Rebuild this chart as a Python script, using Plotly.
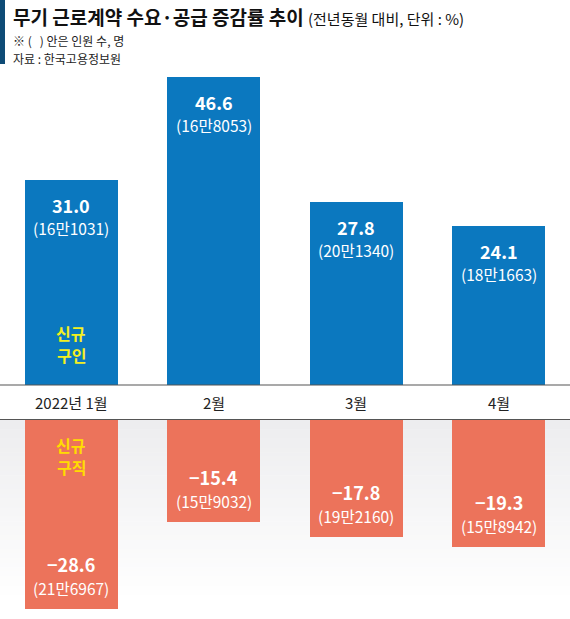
import plotly.graph_objects as go

# ---- data ----
months = ["2022년 1월", "2월", "3월", "4월"]
demand_rate = [31.0, 46.6, 27.8, 24.1]          # 신규 구인 증감률 (%)
demand_count = ["16만1031", "16만8053", "20만1340", "18만1663"]
supply_rate = [-28.6, -15.4, -17.8, -19.3]      # 신규 구직 증감률 (%)
supply_count = ["21만6967", "15만9032", "19만2160", "15만8942"]

title_main = "무기 근로계약 수요·공급 증감률 추이"
title_unit = "(전년동월 대비, 단위 : %)"
note_text = "※ (   ) 안은 인원 수, 명"
source_text = "자료 : 한국고용정보원"
demand_name = ["신규", "구인"]
supply_name = ["신규", "구직"]

# ---- style ----
W, H = 570, 619
BLUE = "#0b78bf"
ORANGE = "#ec735b"
KR = "Noto Sans CJK KR"
PX_PER_UNIT = 6.6

def py(p):  # pixel from top -> paper y
    return 1 - p / H

top_base, top_top = 385, 60
bot_base, bot_bottom = 420, 619

fig = go.Figure()
fig.add_trace(go.Bar(x=months, y=demand_rate, width=0.655, marker=dict(color=BLUE, line_width=0),
                     xaxis="x", yaxis="y", hoverinfo="skip", showlegend=False))
fig.add_trace(go.Bar(x=months, y=supply_rate, width=0.655, marker=dict(color=ORANGE, line_width=0),
                     xaxis="x2", yaxis="y2", hoverinfo="skip", showlegend=False))

ann = []
# value labels
for m, v, c in zip(months, demand_rate, demand_count):
    ann.append(dict(x=m, y=v, xref="x", yref="y", text=f"<b>{v:.1f}</b>", showarrow=False,
                    yshift=-25, font=dict(family=KR, size=18, color="white")))
    ann.append(dict(x=m, y=v, xref="x", yref="y", text=f"({c})", showarrow=False,
                    yshift=-48, font=dict(family=KR, size=15.5, color="white")))
for m, v, c in zip(months, supply_rate, supply_count):
    ann.append(dict(x=m, y=v, xref="x2", yref="y2", text=f"<b>−{abs(v):.1f}</b>", showarrow=False,
                    yshift=45, font=dict(family=KR, size=18, color="white")))
    ann.append(dict(x=m, y=v, xref="x2", yref="y2", text=f"({c})", showarrow=False,
                    yshift=21, font=dict(family=KR, size=15.5, color="white")))

# series name labels inside first bars
for w, dy in zip(demand_name, (52, 30)):
    ann.append(dict(x=months[0], y=0, xref="x", yref="y", text=f"<b>{w}</b>", showarrow=False,
                    yshift=dy, font=dict(family=KR, size=16, color="#f3ef1f")))
for w, dy in zip(supply_name, (-25, -47)):
    ann.append(dict(x=months[0], y=0, xref="x2", yref="y2", text=f"<b>{w}</b>", showarrow=False,
                    yshift=dy, font=dict(family=KR, size=16, color="#ffdc00")))

# category labels in the band
for m in months:
    ann.append(dict(x=m, y=py(402), xref="x", yref="paper", text=m, showarrow=False,
                    font=dict(family=KR, size=15, color="#222")))

# title block
ann.append(dict(x=12 / W, y=py(17), xref="paper", yref="paper", xanchor="left", yanchor="middle",
                text=f"<b>{title_main}</b> <span style='font-size:15px;font-weight:normal'>{title_unit}</span>",
                showarrow=False, borderpad=0, font=dict(family=KR, size=19, color="#111")))
ann.append(dict(x=12 / W, y=py(40), xref="paper", yref="paper", xanchor="left", yanchor="middle",
                text=note_text, showarrow=False, borderpad=0, font=dict(family=KR, size=12, color="#222")))
ann.append(dict(x=12 / W, y=py(58), xref="paper", yref="paper", xanchor="left", yanchor="middle",
                text=source_text, showarrow=False, borderpad=0, font=dict(family=KR, size=12, color="#222")))

shapes = []
# gradient background for lower panel
n = 40
g0 = (237, 237, 239)
for i in range(n):
    t = i / (n - 1)
    col = tuple(int(round(g0[k] + (255 - g0[k]) * t)) for k in range(3))
    y0 = bot_base + (bot_bottom - 15 - bot_base) * i / n
    y1 = bot_base + (bot_bottom - 15 - bot_base) * (i + 1) / n + 0.5
    shapes.append(dict(type="rect", xref="paper", yref="paper", x0=0, x1=1, y0=py(y1), y1=py(y0),
                       fillcolor="rgb(%d,%d,%d)" % col, line_width=0, layer="below"))
# band lines
for yl in (385, 419.5):
    shapes.append(dict(type="line", xref="paper", yref="paper", x0=0, x1=1, y0=py(yl), y1=py(yl),
                       line=dict(color="#555", width=1.2)))
# accent bar
shapes.append(dict(type="rect", xref="paper", yref="paper", x0=0, x1=5 / W, y0=py(64), y1=1,
                   fillcolor="#0e4b76", line_width=0))

fig.update_layout(
    width=W, height=H, margin=dict(l=0, r=0, t=0, b=0),
    paper_bgcolor="white", plot_bgcolor="rgba(0,0,0,0)",
    xaxis=dict(domain=[0, 1], range=[-0.5, 3.5], visible=False, anchor="y"),
    xaxis2=dict(domain=[0, 1], range=[-0.5, 3.5], visible=False, anchor="y2", matches="x"),
    yaxis=dict(domain=[py(top_base), py(top_top)], range=[0, (top_base - top_top) / PX_PER_UNIT],
               visible=False, anchor="x"),
    yaxis2=dict(domain=[py(bot_bottom), py(bot_base)], range=[-(bot_bottom - bot_base) / PX_PER_UNIT, 0],
                visible=False, anchor="x2"),
    annotations=ann, shapes=shapes, bargap=0,
)

fig.write_html("out.html")
